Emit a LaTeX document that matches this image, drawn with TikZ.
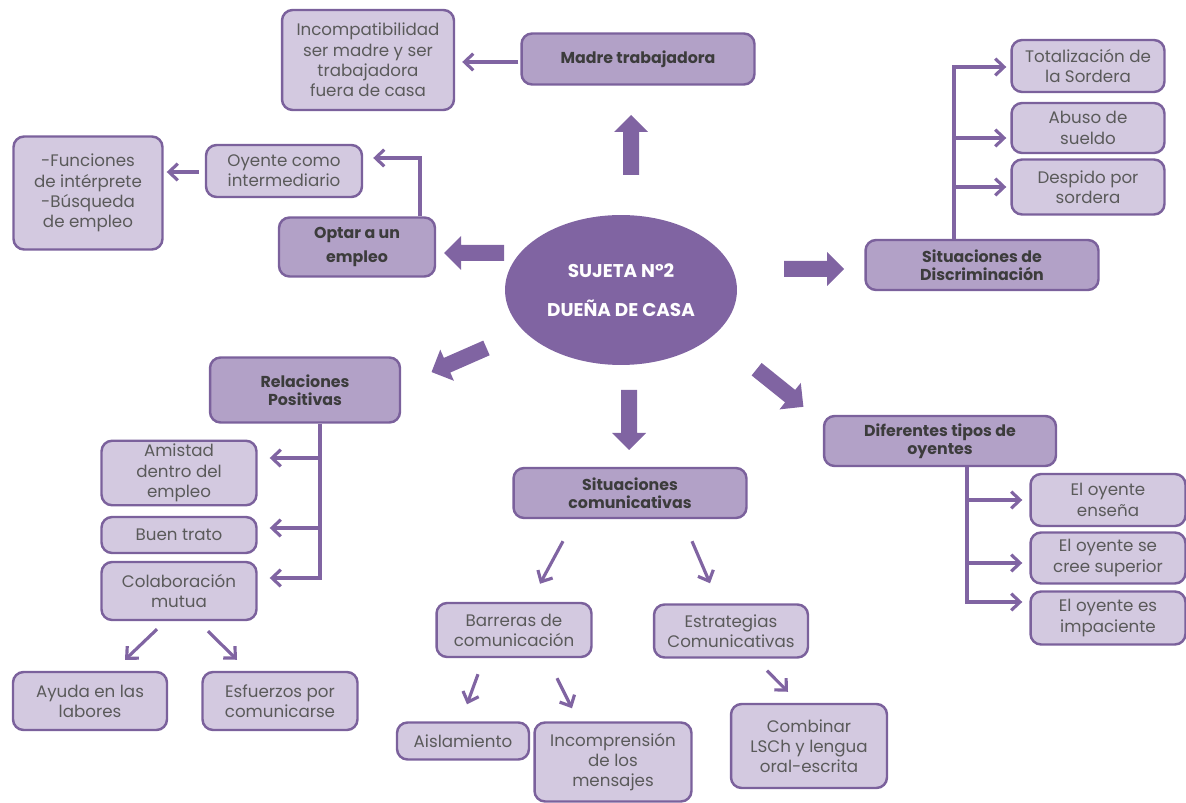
\documentclass[tikz,border=0pt]{standalone}
\usepackage{fontspec}
\setmainfont{Poppins}
\usetikzlibrary{arrows.meta,calc,shapes.geometric}
\definecolor{violeta}{HTML}{8064A2}
\definecolor{lila}{HTML}{B2A1C7}
\definecolor{lilaclaro}{HTML}{D3C9E0}
\definecolor{borde}{HTML}{7B619C}
\definecolor{textogris}{HTML}{5A5A5A}
\definecolor{textofuerte}{HTML}{3C3C3C}
\begin{document}
\begin{tikzpicture}[x=0.02cm, y=-0.02cm,
  caja/.style={draw=borde, line width=1.4pt, rounded corners=6pt, align=center, inner sep=2pt},
  fuerte/.style={caja, fill=lila, text=textofuerte, font=\bfseries\fontsize{9}{10.5}\selectfont},
  suave/.style={caja, fill=lilaclaro, text=textogris, font=\fontsize{9.5}{11.5}\selectfont},
  enlace/.style={draw=violeta, line width=1.8pt, -{Straight Barb[length=5pt,width=9.5pt]}},
  flecha/.pic={\fill[violeta] (-30,-8) -- (13,-8) -- (13,-17) -- (30,0) -- (13,17) -- (13,8) -- (-30,8) -- cycle;}]
  \useasboundingbox (0,0) rectangle (1186,803);
  \node[ellipse, fill=violeta, minimum width=4.64cm, minimum height=3cm, text=white, align=center,
    font=\bfseries\fontsize{10.5}{12}\selectfont] (centro) at (621,290) {SUJETA N°2\\[10pt]DUEÑA DE CASA};
  \pic[rotate=90] at (631,145) {flecha};
  \pic[rotate=180] at (474,253) {flecha};
  \pic at (814,269) {flecha};
  \pic[rotate=-90] at (629,420) {flecha};
  \pic[rotate=203.7] at (459,360) {flecha};
  \pic[rotate=-38.8] at (780,388) {flecha};

  \node[fuerte, minimum width=4.66cm, minimum height=1.02cm] (madre) at (638,59) {Madre trabajadora};
  \node[suave, minimum width=3.44cm, minimum height=2cm] (incomp) at (368,60) {Incompatibilidad\\ser madre y ser\\trabajadora\\fuera de casa};
  \node[fuerte, minimum width=3.12cm, minimum height=1.18cm] (optar) at (357,247) {Optar a un\\[3pt]empleo};
  \node[suave, minimum width=3.12cm, minimum height=1.04cm] (oyente) at (284,171) {Oyente como\\intermediario};
  \node[suave, minimum width=2.98cm, minimum height=2.26cm] (funciones) at (88,193) {-Funciones\\de intérprete\\-Búsqueda\\de empleo};
  \node[fuerte, minimum width=4.66cm, minimum height=1cm] (discrim) at (982,265) {Situaciones de\\Discriminación};
  \node[suave, minimum width=3.06cm, minimum height=1.04cm] (totaliz) at (1088,66) {Totalización de\\la Sordera};
  \node[suave, minimum width=3.06cm, minimum height=1cm] (abuso) at (1088,128) {Abuso de\\sueldo};
  \node[suave, minimum width=3.06cm, minimum height=1.1cm] (despido) at (1088,187) {Despido por\\sordera};
  \node[fuerte, minimum width=3.8cm, minimum height=1.3cm] (relac) at (305,390) {Relaciones\\Positivas};
  \node[suave, minimum width=3.1cm, minimum height=1.22cm] (amistad) at (179,473) {Amistad\\dentro del\\empleo};
  \node[suave, minimum width=3.1cm, minimum height=0.72cm] (buen) at (179,535) {Buen trato};
  \node[suave, minimum width=3.1cm, minimum height=1.16cm] (colab) at (179,591) {Colaboración\\mutua};
  \node[suave, minimum width=3.08cm, minimum height=1.16cm] (ayuda) at (90,701) {Ayuda en las\\labores};
  \node[suave, minimum width=3.1cm, minimum height=1.16cm] (esfuer) at (280,701) {Esfuerzos por\\comunicarse};
  \node[fuerte, minimum width=4.66cm, minimum height=1cm] (sitcom) at (630,493) {Situaciones\\comunicativas};
  \node[suave, minimum width=3.1cm, minimum height=1.08cm] (barreras) at (514,630) {Barreras de\\comunicación};
  \node[suave, minimum width=3.08cm, minimum height=1.06cm] (estrat) at (731,631) {Estrategias\\Comunicativas};
  \node[suave, minimum width=2.64cm, minimum height=0.74cm] (aisla) at (463,741) {Aislamiento};
  \node[suave, minimum width=3.14cm, minimum height=1.58cm] (incompr) at (613,762) {Incomprensión\\de los\\mensajes};
  \node[suave, minimum width=3.12cm, minimum height=1.68cm] (combinar) at (809,746) {Combinar\\LSCh y lengua\\oral-escrita};
  \node[fuerte, minimum width=4.64cm, minimum height=1cm] (difer) at (940,441) {Diferentes tipos de\\oyentes};
  \node[suave, minimum width=3.1cm, minimum height=1.04cm] (ensena) at (1108,500) {El oyente\\enseña};
  \node[suave, minimum width=3.1cm, minimum height=1.02cm] (superior) at (1108,558) {El oyente se\\cree superior};
  \node[suave, minimum width=3.1cm, minimum height=1.06cm] (impac) at (1108,618) {El oyente es\\impaciente};

  \draw[enlace] ($(madre.west)+(-2,3)$) -- ($(incomp.east |- madre.west)+(7,3)$);
  \draw[enlace] ($(optar.north)+(63,0)$) |- ($(oyente.east)+(10,-13)$);
  \draw[enlace] ($(oyente.west)+(-6,1)$) -- ($(funciones.east |- oyente.west)+(3,1)$);

  \coordinate (dtronco) at ($(discrim.north)+(-28,0)$);
  \draw[enlace] (dtronco) |- ($(totaliz.west)+(-4,1)$);
  \draw[enlace] ($(dtronco |- abuso.west)+(0,10)$) -- ($(abuso.west)+(-4,10)$);
  \draw[enlace] (dtronco |- despido.west) -- ($(despido.west)+(-4,0)$);

  \coordinate (rtronco) at ($(relac.south)+(15,0)$);
  \draw[enlace] (rtronco) |- ($(colab.east)+(12,-13)$);
  \draw[enlace] ($(rtronco |- amistad.east)+(0,-15)$) -- ($(amistad.east)+(12,-15)$);
  \draw[enlace] ($(rtronco |- buen.east)+(0,-7)$) -- ($(buen.east)+(12,-7)$);

  \coordinate (otronco) at ($(difer.south)+(27,0)$);
  \draw[enlace] (otronco) |- ($(impac.west)+(-7,-16)$);
  \draw[enlace] (otronco |- ensena.west) -- ($(ensena.west)+(-7,0)$);
  \draw[enlace] ($(otronco |- superior.west)+(0,5)$) -- ($(superior.west)+(-7,5)$);

  \draw[enlace] ($(colab.south)+(-22,8)$) -- ($(ayuda.north)+(35,-11)$);
  \draw[enlace] ($(colab.south)+(29,10)$) -- ($(esfuer.north)+(-43,-11)$);
  \draw[enlace] ($(sitcom.south)+(-67,22)$) -- ($(barreras.north)+(26,-18)$);
  \draw[enlace] ($(sitcom.south)+(62,22)$) -- ($(estrat.north)+(-21,-20)$);
  \draw[enlace] ($(barreras.south)+(-36,16)$) -- ($(aisla.north)+(4,-17)$);
  \draw[enlace] ($(barreras.south)+(43,20)$) -- ($(incompr.north)+(-41,-13)$);
  \draw[enlace] ($(estrat.south)+(36,12)$) -- ($(combinar.north)+(-21,-11)$);
\end{tikzpicture}
\end{document}
